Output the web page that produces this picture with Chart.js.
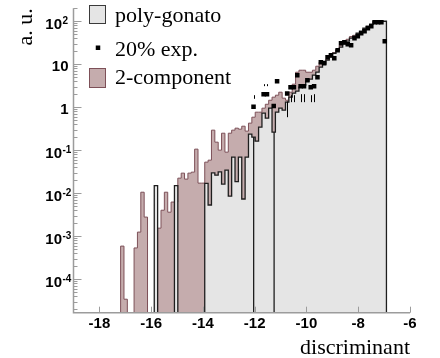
<!DOCTYPE html>
<html lang="en">
<head>
<meta charset="UTF-8">
<title>discriminant</title>
<script src="https://cdn.jsdelivr.net/npm/chart.js"></script>
<style>
  html, body { margin: 0; padding: 0; background: #fff; }
</style>
</head>
<body>
<canvas id="chart" width="440" height="358"></canvas>
<script>
// 100 bins of 0.13 between -19 and -6
const binMin = -19;
const binWidth = 0.13;

// poly-gonato, bins 24..92 (0 = empty bin)
const polyFirstBin = 24;
const polyGonato = [
  0.015, 0, 0, 0, 0, 0, 0.015, 0, 0, 0,
  0, 0, 0, 0, 0, 0.0168, 0.0053, 0.0297, 0.0262, 0.0313,
  0.0162, 0.0343, 0.0085, 0.0687, 0.0185, 0.0687, 0.0073, 0.0687, 0.236, 0.201,
  0.162, 0.343, 0.725, 0.555, 0.948, 0.262, 0.765, 0.948, 0.851, 1.31,
  1.71, 2.12, 2.36, 2.92, 3.25, 4.03, 4.48, 5.55, 6.51, 8.51,
  10.0, 12.4, 14.6, 18.0, 21.2, 24.9, 29.2, 34.3, 40.3, 44.8,
  52.6, 58.5, 68.7, 76.5, 85.1, 100, 100, 100, 100
];
// single empty slices inside the poly-gonato fill
const polyGaps = [-12.04, -11.25];

// 2-component, bins 14..92
const twoFirstBin = 14;
const twoComponent = [
  5.85e-4, 3.4e-5, 0, 0, 5.3e-4, 1.24e-3, 0.0105, 2.77e-3, 0, 0,
  0, 1.53e-3, 4.0e-3, 0.0105, 3.6e-3, 6.2e-3, 6.2e-3, 0.0223, 0.0292, 0.0212,
  0.0292, 0.0308, 0.1055, 0.0171, 0.0171, 0.0526, 0.0585, 0.292, 0.1535, 0.1,
  0.248, 0.0898, 0.248, 0.292, 0.325, 0.308, 0.361, 0.277, 0.425, 0.585,
  0.765, 0.765, 0.948, 1.17, 1.45, 1.71, 1.9, 2.23, 1.62, 1.45,
  2.23, 3.43, 6.51, 7.25, 7.25, 6.51, 6.51, 7.25, 8.98, 11.1,
  10.5, 13.2, 15.2, 18.6, 22.5, 28.0, 33.5, 38.0, 44.0, 47.0,
  52, 57, 67, 75, 84, 98, 98, 98, 98
];

// 20% exp. points, bins 53..92, with error bar ends
const expFirstBin = 53;
const exp20 = [
  1.02, null, null, 2.01, 2.01, null, 1.06, 4.03, null, null,
  2.08, 2.92, 2.92, 5.55, 3.08, 3.08, 4.25, 2.92, 3.08, 4.98,
  11.1, 10.6, 14.6, 16.2, 13.8, 21.2, 30.8, 32.5, 29.2, 27.7,
  40.3, 44.8, 52.6, 58.5, 68.7, 76.5, 94.8, 94.8, 94.8, 34.3
];
const exp20Lo = [
  null, null, null, null, null, null, null, null, null, null,
  0.585, 1.31, 1.31, null, 1.31, 1.31, null, 1.31, 1.31, null,
  null, null, null, null, null, null, null, null, null, null,
  null, null, null, null, null, null, null, null, null, null
];
const exp20Hi = [
  1.9, null, null, 3.43, 3.43, null, null, null, null, null,
  2.92, null, null, null, null, null, null, null, null, null,
  null, null, null, null, null, null, null, null, null, null,
  null, null, null, null, null, null, null, null, null, null
];

const xTicks = [-18, -16, -14, -12, -10, -8, -6];
const yDecades = [-4, -3, -2, -1, 0, 1, 2];

const FLOOR = 1e-9;   // empty bins drop below the axis
const ROSY = 'rgb(197,172,173)';
const ROSY_LINE = 'rgb(125,80,88)';
const GREY = 'rgb(229,229,229)';

const edge = k => binMin + k * binWidth;

// outline of a histogram as stepped points, left edge of every bin
function histPoints(firstBin, values, gaps) {
  const pts = [{ x: edge(firstBin), y: FLOOR }];
  values.forEach((v, i) => {
    const lo = edge(firstBin + i), hi = edge(firstBin + i + 1);
    const val = v > 0 ? v : FLOOR;
    pts.push({ x: lo, y: val });
    (gaps || []).forEach(g => {
      if (g > lo && g < hi) {
        pts.push({ x: g, y: FLOOR });
        pts.push({ x: g, y: val });
      }
    });
  });
  pts.push({ x: edge(firstBin + values.length), y: FLOOR });
  return pts;
}

const expPoints = [];
exp20.forEach((v, i) => {
  if (v !== null) expPoints.push({ x: edge(expFirstBin + i) + binWidth / 2, y: v, lo: exp20Lo[i], hi: exp20Hi[i] });
});

const serif = '"Liberation Serif", "Times New Roman", serif';
const sansBold = 'bold 15px "Liberation Sans", Arial, sans-serif';
const expBold = 'bold 10px "Liberation Sans", Arial, sans-serif';

const frame = {
  id: 'frame',
  afterDatasetsDraw(chart) {
    const { ctx, chartArea: a, scales: { x, y } } = chart;
    ctx.save();

    // error bars, kept clear of the markers
    ctx.strokeStyle = '#000';
    ctx.lineWidth = 1;
    const gap = 8;
    expPoints.forEach(p => {
      const px = Math.round(x.getPixelForValue(p.x)) + 0.5;
      const py = y.getPixelForValue(p.y);
      ctx.beginPath();
      if (p.hi !== null) {
        const ph = y.getPixelForValue(p.hi);
        if (py - ph > gap) { ctx.moveTo(px, py - gap); ctx.lineTo(px, ph); }
      }
      if (p.lo !== null) {
        const pl = y.getPixelForValue(p.lo);
        if (pl - py > gap) { ctx.moveTo(px, py + gap); ctx.lineTo(px, pl); }
      }
      ctx.stroke();
    });

    // axes
    ctx.strokeStyle = '#9c9c9c';
    ctx.lineWidth = 1.5;
    ctx.beginPath();
    ctx.moveTo(a.left, a.top);
    ctx.lineTo(a.left, a.bottom);
    ctx.lineTo(a.right, a.bottom);
    ctx.stroke();

    ctx.lineWidth = 1;
    ctx.beginPath();
    for (let d = -5; d <= 2; d++) {
      for (let m = 1; m <= 9; m++) {
        const v = m * Math.pow(10, d);
        if (v < y.min || v > y.max) continue;
        const py = Math.round(y.getPixelForValue(v)) + 0.5;
        ctx.moveTo(a.left, py);
        ctx.lineTo(a.left + (m === 1 ? 8 : 4), py);
      }
    }
    xTicks.forEach(t => {
      const px = Math.round(x.getPixelForValue(t)) + 0.5;
      ctx.moveTo(px, a.bottom);
      ctx.lineTo(px, a.bottom - 6);
    });
    ctx.stroke();

    // tick labels
    ctx.fillStyle = '#000';
    ctx.font = sansBold;
    ctx.textAlign = 'center';
    ctx.textBaseline = 'alphabetic';
    xTicks.forEach(t => ctx.fillText(String(t), x.getPixelForValue(t), a.bottom + 15));

    yDecades.forEach(d => {
      const py = y.getPixelForValue(Math.pow(10, d));
      ctx.font = sansBold;
      if (d === 0 || d === 1) {
        ctx.textAlign = 'right';
        ctx.fillText(d === 0 ? '1' : '10', a.left - 5, py + 6.5);
      } else {
        ctx.textAlign = 'right';
        ctx.fillText('10', a.left - 11.5, py + 8);
        ctx.font = expBold;
        ctx.textAlign = 'left';
        ctx.fillText(String(d), a.left - 11, py + 2.5);
      }
    });

    // axis titles
    ctx.font = '22px ' + serif;
    ctx.textAlign = 'right';
    ctx.fillText('discriminant', a.right, 354);
    ctx.save();
    ctx.translate(31.5, a.top);
    ctx.rotate(-Math.PI / 2);
    ctx.fillText('a. u.', 0, 0);
    ctx.restore();

    // legend
    ctx.lineWidth = 1;
    ctx.fillStyle = GREY;
    ctx.strokeStyle = '#3a3a3a';
    ctx.fillRect(89.5, 5.5, 16, 18);
    ctx.strokeRect(89.5, 5.5, 16, 18);
    ctx.fillStyle = ROSY;
    ctx.strokeStyle = ROSY_LINE;
    ctx.fillRect(89.5, 68.5, 16, 19);
    ctx.strokeRect(89.5, 68.5, 16, 19);
    ctx.fillStyle = '#000';
    ctx.fillRect(95.75, 45.5, 4.5, 4.5);
    ctx.textAlign = 'left';
    ctx.fillText('poly-gonato', 115, 21.7);
    ctx.fillText('20% exp.', 115, 55.5);
    ctx.fillText('2-component', 115, 84);

    ctx.restore();
  }
};

new Chart(document.getElementById('chart'), {
  type: 'scatter',
  data: {
    datasets: [
      {
        label: '20% exp.',
        data: expPoints,
        pointStyle: 'rect',
        pointRadius: 3.2,
        pointBorderWidth: 0,
        pointBackgroundColor: '#000',
        order: 0
      },
      {
        label: 'poly-gonato',
        data: histPoints(polyFirstBin, polyGonato, polyGaps),
        showLine: true,
        stepped: true,
        fill: 'start',
        backgroundColor: GREY,
        borderColor: '#1e1e1e',
        borderWidth: 1.3,
        pointRadius: 0,
        order: 1
      },
      {
        label: '2-component',
        data: histPoints(twoFirstBin, twoComponent),
        showLine: true,
        stepped: true,
        fill: 'start',
        backgroundColor: ROSY,
        borderColor: ROSY_LINE,
        borderWidth: 1,
        pointRadius: 0,
        order: 2
      }
    ]
  },
  options: {
    responsive: false,
    devicePixelRatio: 1,
    animation: false,
    events: [],
    layout: { padding: { left: 73.5, top: 8.3, right: 30, bottom: 45.3 } },
    plugins: { legend: { display: false }, tooltip: { enabled: false } },
    scales: {
      x: { type: 'linear', display: false, min: -19, max: -6 },
      y: { type: 'logarithmic', display: false, min: 1.65e-5, max: 200 }
    }
  },
  plugins: [frame]
});
</script>
</body>
</html>
